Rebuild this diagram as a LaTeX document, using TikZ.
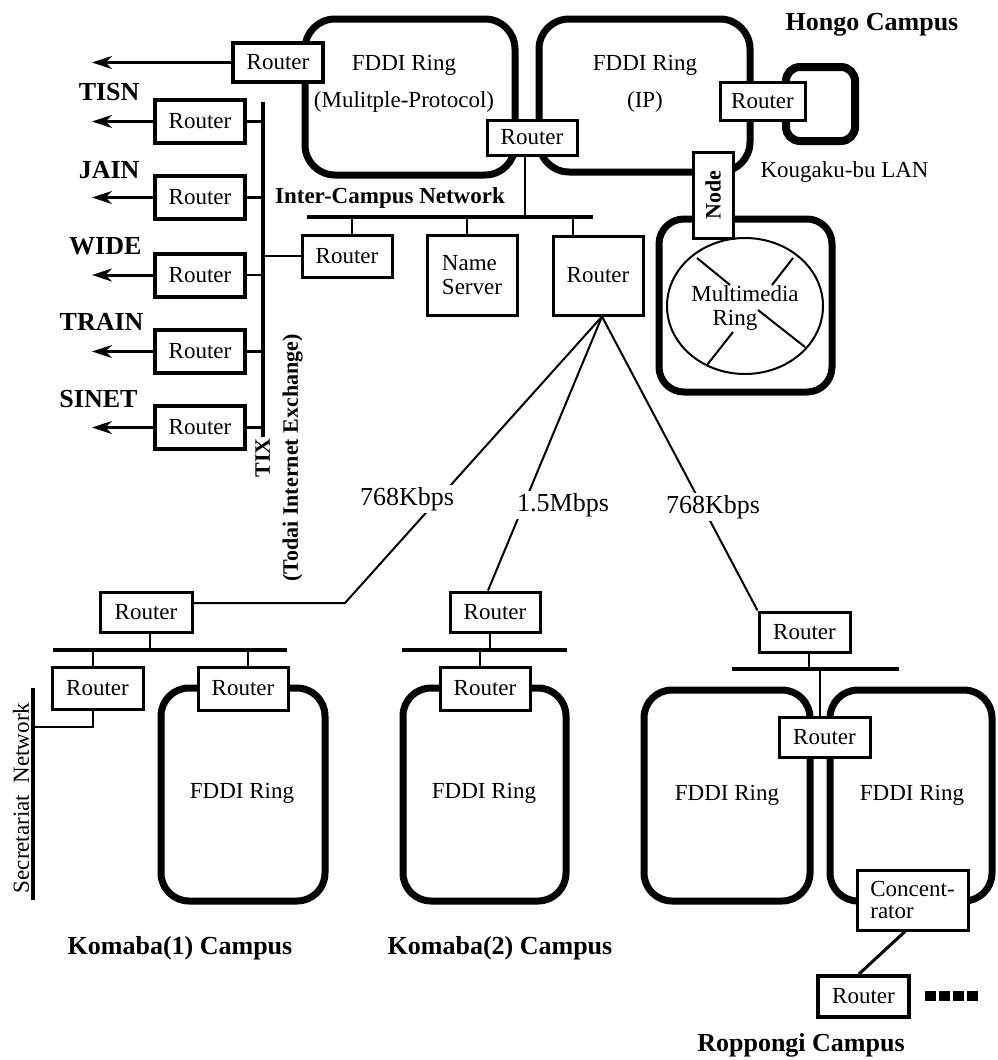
\documentclass[tikz,border=0pt]{standalone}
\usepackage{fontspec}
\setmainfont{Liberation Serif}
\usetikzlibrary{arrows.meta}
\pgfdeclarelayer{bg}
\pgfsetlayers{bg,main}
\newcommand\txtn{\fontsize{23}{24}\selectfont}
\newcommand\txtb{\fontsize{22}{24}\selectfont\bfseries}
\newcommand\txtl{\fontsize{26}{28}\selectfont\bfseries}
\newcommand\txtm{\fontsize{26}{28}\selectfont}
\tikzset{
  rt/.style={draw, line width=3pt, fill=white, inner sep=0pt, font=\txtn,
             minimum width=90pt, minimum height=40pt},
  rtk/.style={rt, line width=4pt},
  ring/.style={line width=7pt, rounded corners=28pt},
  bus/.style={line width=4pt},
  link/.style={line width=2pt},
  tlink/.style={line width=2.6pt},
  arr/.style={line width=3pt, -{Stealth[length=20pt,width=13pt]}},
  camp/.style={font=\txtl},
  bw/.style={font=\txtm, fill=white, inner sep=2pt},
  txt/.style={font=\txtn},
}
\begin{document}
\begin{tikzpicture}[x=1pt,y=-1pt]
\useasboundingbox (0,0) rectangle (997,1060);

% ---------- nodes ----------
\node[rtk, minimum height=39pt] (R0) at (278,62.5) {Router};
\node[rtk, minimum height=43pt] (RT1) at (200,121.5) {Router};
\node[rtk, minimum height=43pt] (RT2) at (200,197.5) {Router};
\node[rtk, minimum height=43pt] (RT3) at (200,275) {Router};
\node[rtk, minimum height=43pt] (RT4) at (200,351.5) {Router};
\node[rtk, minimum height=43pt] (RT5) at (200,427.5) {Router};

\node[rt, minimum height=35pt] (RR) at (532,137.5) {Router};
\node[rt, minimum width=85pt, minimum height=38pt] (RK) at (762.5,101) {Router};
\node[rt, minimum height=42pt] (RA) at (347,256) {Router};
\node[rt, minimum height=80pt, align=left] (NS) at (472,275) {Name\\Server};
\node[rt, minimum height=79pt] (RB) at (598,275.5) {Router};
\node[rt, rotate=90, minimum width=86pt, minimum height=40pt, font=\txtb] (ND) at (713,195) {Node};

\node[rt, minimum width=92pt] (K1a) at (146,612) {Router};
\node[rt, minimum width=91pt, minimum height=42pt] (K1b) at (97.5,688) {Router};
\node[rt, minimum height=43pt] (K1c) at (243,688.5) {Router};
\node[rt] (K2a) at (495,612) {Router};
\node[rt, minimum height=43pt] (K2b) at (485,688.5) {Router};
\node[rt, minimum width=91pt] (R1) at (804.5,632) {Router};
\node[rt, minimum width=91pt] (R2) at (824.5,737) {Router};
\node[rt, minimum width=111pt, minimum height=60pt, align=left] (CC) at (912.5,900)
  {Concent-\\[-2pt]rator};
\node[rtk, minimum width=91pt, minimum height=41pt] (R3) at (863.5,996.5) {Router};

% ---------- rings and buses (behind) ----------
\begin{pgfonlayer}{bg}
\draw[ring, rounded corners=30pt] (305,19) rectangle (515,175);
\draw[ring, rounded corners=30pt] (539,19) rectangle (750,172);
\draw[ring, line width=8pt, rounded corners=14pt] (786,67) rectangle (855,141);
\draw[ring, rounded corners=25pt] (659,219) rectangle (832,392);
\draw[line width=2pt] (745,306) ellipse [x radius=78pt, y radius=68pt];
\draw[line width=2pt] (697,258) -- (730,285);
\draw[line width=2pt] (793,258) -- (772,285);
\draw[line width=2pt] (758,310) -- (805,347);
\draw[line width=2pt] (733,332) -- (707,365);

\draw[ring] (161,688) rectangle (325,901);
\draw[ring] (403,688) rectangle (566,901);
\draw[ring] (644,690) rectangle (810,901);
\draw[ring] (830,690) rectangle (992,901);

\coordinate (tixT) at (263,102);
\coordinate (tixB) at (263,437);
\draw[bus] (tixT) -- (tixB);
\coordinate (icL) at (307,217);
\coordinate (icR) at (593,217);
\draw[bus] (icL) -- (icR);
\coordinate (k1L) at (53,650);
\coordinate (k1R) at (287,650);
\draw[bus] (k1L) -- (k1R);
\coordinate (k2L) at (402,650);
\coordinate (k2R) at (567,650);
\draw[bus] (k2L) -- (k2R);
\coordinate (rpL) at (732,669);
\coordinate (rpR) at (899,669);
\draw[bus] (rpL) -- (rpR);
\coordinate (secT) at (33,688);
\coordinate (secB) at (33,900);
\draw[bus] (secT) -- (secB);
\end{pgfonlayer}

% ---------- connectors ----------
\coordinate (ax) at (92,0);
\draw[arr] (R0.west) -- (R0.west -| ax);
\foreach \r in {RT1,RT2,RT3,RT4,RT5}{
  \draw[arr] (\r.west) -- (\r.west -| ax);
  \draw[tlink] (\r.east) -- (\r.east -| tixT);
}
\draw[tlink] (RA.west) -- (RA.west -| tixT);

\coordinate (c1) at (525,217);
\draw[link] (c1) -- (c1 |- RR.south);
\coordinate (c2) at (352,217);
\draw[link] (c2) -- (c2 |- RA.north);
\coordinate (c3) at (467,217);
\draw[link] (c3) -- (c3 |- NS.north);
\coordinate (c4) at (573,217);
\draw[link] (c4) -- (c4 |- RB.north);

\coordinate (hub) at ([xshift=4pt]RB.south);
\coordinate (bend) at (345,603);
\draw[link] (hub) -- (bend) -- (bend -| K1a.east);
\draw[link] (hub) -- ([xshift=-7pt]K2a.north);
\draw[link] (hub) -- (R1.north west);

\draw[link] ([xshift=4pt]K1a.south) -- ([xshift=4pt]K1a.south |- k1L);
\draw[link] ([xshift=-4.5pt]K1b.north) -- ([xshift=-4.5pt]K1b.north |- k1L);
\draw[link] ([xshift=5pt]K1c.north) -- ([xshift=5pt]K1c.north |- k1L);
\coordinate (secJ) at (33,727);
\draw[link] ([xshift=-4.5pt]K1b.south) |- (secJ);

\draw[link] ([xshift=-5pt]K2a.south) -- ([xshift=-5pt]K2a.south |- k2L);
\draw[link] ([xshift=-5pt]K2b.north) -- ([xshift=-5pt]K2b.north |- k2L);

\draw[link] ([xshift=4.5pt]R1.south) -- ([xshift=4.5pt]R1.south |- rpL);
\draw[link] ([xshift=-4.5pt]R2.north) -- ([xshift=-4.5pt]R2.north |- rpL);

\draw[line width=3pt] ([xshift=-7.5pt]CC.south) -- ([xshift=-4.5pt]R3.north);

% dots
\foreach \dx in {925,939,953,967}{
  \fill (\dx,991) rectangle ++(11,10);
}

% ---------- labels ----------
\node[camp] (hongo) at (872,25) {Hongo Campus};
\node[txt, anchor=west] (kou) at (757,172) {Kougaku-bu LAN};
\node[font=\fontsize{23}{24}\selectfont\bfseries] (icn) at (390,198) {Inter-Campus Network};
\node[camp, anchor=east] (tisn) at (143,92) {TISN};
\node[camp, anchor=east] (jain) at (143,170) {JAIN};
\node[camp, anchor=east] (wide) at (145,246) {WIDE};
\node[camp, anchor=east] (train) at (147,322) {TRAIN};
\node[camp, anchor=east] (sinet) at (141,399) {SINET};
\node[txt, align=center] (f1) at (404,84) {FDDI Ring\\[13pt](Mulitple-Protocol)};
\node[txt, align=center] (f2) at (645,84) {FDDI Ring\\[13pt](IP)};
\node[txt, align=center] (mm) at (745,308) {Multimedia\\\hspace*{-20pt}Ring};
\node[font=\txtb, rotate=90, align=center] (tix) at (279,458)
  {TIX\\[4pt](Todai Internet Exchange)};
\node[txt, rotate=90] (secl) at (21,798) {Secretariat\ \ Network};

\node[bw] (bw1) at (407,499) {768Kbps};
\node[bw] (bw2) at (563,505) {1.5Mbps};
\node[bw] (bw3) at (713,507) {768Kbps};

\node[txt] (f3) at (242,793) {FDDI Ring};
\node[txt] (f4) at (484,793) {FDDI Ring};
\node[txt] (f5) at (727,795) {FDDI Ring};
\node[txt] (f6) at (912,795) {FDDI Ring};

\node[camp] (kom1) at (180,948) {Komaba(1) Campus};
\node[camp] (kom2) at (500,948) {Komaba(2) Campus};
\node[camp] (ropp) at (801,1045) {Roppongi Campus};
\end{tikzpicture}
\end{document}
